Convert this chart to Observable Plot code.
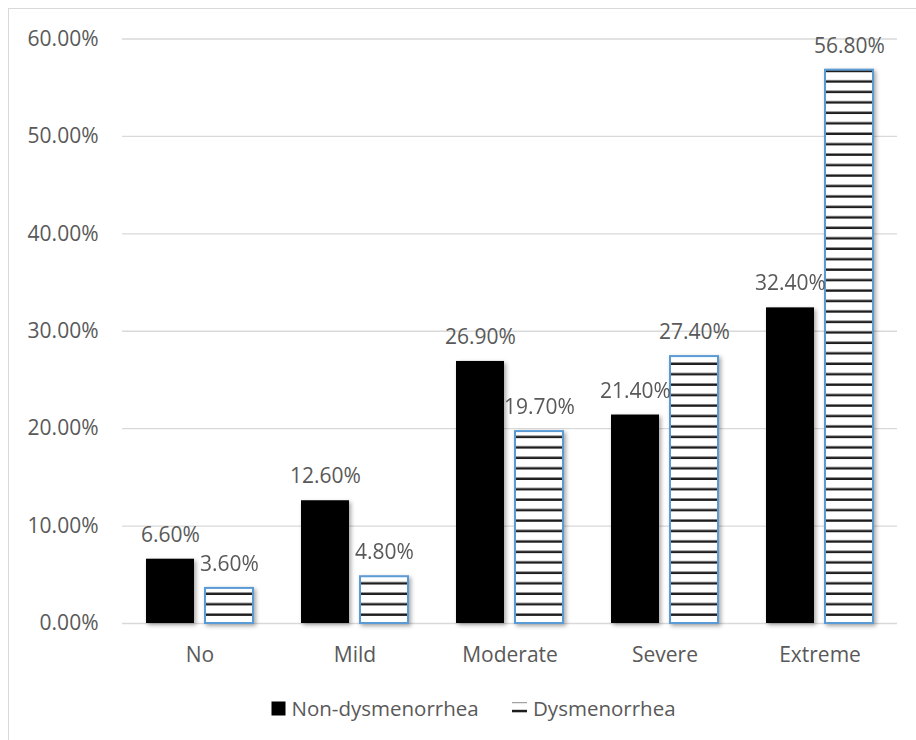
<!DOCTYPE html>
<html>
<head>
<meta charset="utf-8">
<script src="https://cdn.jsdelivr.net/npm/d3@7"></script>
<script src="https://cdn.jsdelivr.net/npm/@observablehq/plot@0.6"></script>
<style>
  html, body { margin: 0; padding: 0; background: #fff; }
  #frame { position: relative; width: 916px; height: 740px; overflow: hidden; font-family: "Open Sans", sans-serif; }
  #frame .border { position: absolute; left: 8px; top: 8px; width: 1200px; height: 1200px;
    border-left: 1.5px solid #d9d9d9; border-top: 1.5px solid #d9d9d9; box-sizing: border-box; }
  #chart { position: absolute; left: 0; top: 0; }
  #legend { position: absolute; left: 0; top: 680px; }
</style>
</head>
<body>
<div id="frame">
  <div class="border"></div>
  <div id="chart"></div>
  <svg id="legend" width="916" height="60"></svg>
</div>
<script>
// Pain severity categories and the share of each group (percent)
const categories = ["No", "Mild", "Moderate", "Severe", "Extreme"];
const series = ["Non-dysmenorrhea", "Dysmenorrhea"];
const nonDysmenorrhea = [6.6, 12.6, 26.9, 21.4, 32.4];
const dysmenorrhea = [3.6, 4.8, 19.7, 27.4, 56.8];
const yTicks = [0, 10, 20, 30, 40, 50, 60];

const fmt = v => v.toFixed(2) + "%";
const textColor = "#595959";
const fontSize = 21;
const legendFontSize = 20.5;

const rows = categories.flatMap((c, i) => [
  {category: c, series: series[0], value: nonDysmenorrhea[i]},
  {category: c, series: series[1], value: dysmenorrhea[i]}
]);

const plot = Plot.plot({
  width: 916,
  height: 680,
  marginLeft: 121,
  marginRight: 19,
  marginTop: 38.5,
  marginBottom: 57,
  style: {fontFamily: '"Open Sans", sans-serif', fontSize: fontSize + "px", color: textColor, background: "transparent", overflow: "visible"},
  fx: {domain: categories, padding: 0, label: null, axis: "bottom", tickSize: 0, tickPadding: 24},
  x: {domain: series, paddingInner: 0.182, paddingOuter: 0.399, axis: null},
  y: {domain: [0, 60], ticks: yTicks, tickFormat: fmt, tickSize: 0, tickPadding: 24, label: null},
  marks: [
    Plot.ruleY(yTicks, {stroke: "#d9d9d9", strokeWidth: 1.3}),
    Plot.barY(rows.filter(d => d.series === series[0]),
      {fx: "category", x: "series", y: "value", fill: "#000"}),
    Plot.barY(rows.filter(d => d.series === series[1]),
      {fx: "category", x: "series", y: "value", fill: "url(#hstripes)", stroke: "#5b9bd5", strokeWidth: 2}),
    Plot.text(rows,
      {fx: "category", x: "series", y: "value", text: d => fmt(d.value), lineAnchor: "bottom", dy: -17.5, fill: textColor, fontSize})
  ]
});

// Horizontal stripe fill for the dysmenorrhea bars
const svg = d3.select(plot);
const defs = svg.insert("defs", ":first-child");
const pat = defs.append("pattern")
  .attr("id", "hstripes")
  .attr("patternUnits", "userSpaceOnUse")
  .attr("width", 20)
  .attr("height", 10.455);
pat.append("rect").attr("width", 20).attr("height", 10.455).attr("fill", "#fff");
pat.append("rect").attr("y", 7.1).attr("width", 20).attr("height", 2.4).attr("fill", "#1e1e1e");

// Soft shadow under the bars
svg.selectAll('g[aria-label="bar"]').style("filter", "drop-shadow(2px 2px 2px rgba(0,0,0,0.35))");

document.getElementById("chart").appendChild(plot);

// Legend below the plot
const legend = d3.select("#legend")
  .style("font-family", '"Open Sans", sans-serif')
  .style("font-size", legendFontSize + "px");
const legendX = [271.5, 512];
series.forEach((name, i) => {
  const g = legend.append("g").attr("transform", `translate(${legendX[i]},0)`);
  if (i === 0) {
    g.append("rect").attr("x", 0).attr("y", 21.5).attr("width", 14).attr("height", 14).attr("fill", "#000");
  } else {
    g.append("rect").attr("x", 0).attr("y", 21.5).attr("width", 15).attr("height", 14).attr("fill", "#fff");
    g.append("rect").attr("x", 0).attr("y", 22.2).attr("width", 15).attr("height", 1).attr("fill", "#8c8c8c");
    g.append("rect").attr("x", 0).attr("y", 29.8).attr("width", 15).attr("height", 2.5).attr("fill", "#1e1e1e");
  }
  g.append("text").attr("x", i === 0 ? 20 : 21).attr("y", 36).attr("fill", textColor).text(name);
});
</script>
</body>
</html>
